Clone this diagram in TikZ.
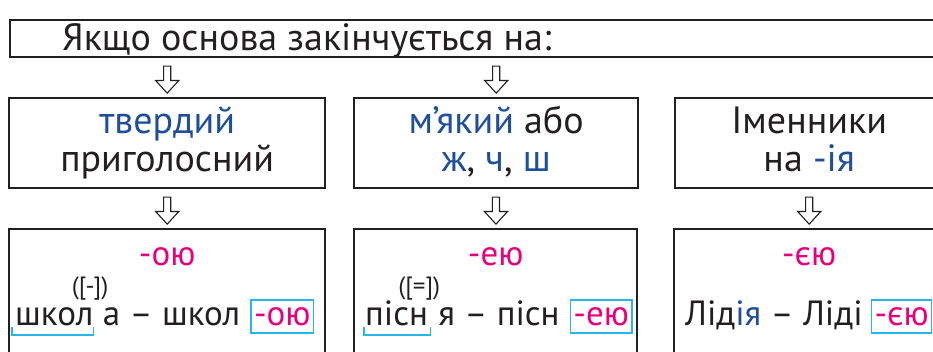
\documentclass[tikz,border=0pt]{standalone}
\usepackage{fontspec}
\setmainfont{PT Sans}
\usetikzlibrary{shapes.arrows,calc}

\definecolor{ink}{HTML}{231F20}
\definecolor{ublue}{HTML}{1F4E9B}
\definecolor{umag}{HTML}{E6007E}
\definecolor{ucyan}{HTML}{27B4E6}

\newcommand{\bl}[1]{\textcolor{ublue}{#1}}

\begin{document}
\begin{tikzpicture}[x=1pt, y=-1pt,
  box/.style={draw=ink, line width=2.4pt, inner sep=0pt},
  big/.style={text=ink, font=\fontsize{38}{36}\selectfont, inner sep=0pt},
  word/.style={text=ink, font=\fontsize{35}{34}\selectfont, inner sep=0pt},
  hint/.style={text=ink, font=\fontsize{25}{26}\selectfont, inner sep=0pt, anchor=base west},
  endbox/.style={draw=ucyan, line width=1.2pt, text=umag, font=\fontsize{35}{34}\selectfont,
    inner xsep=3pt, inner ysep=0pt, text height=25pt, text depth=8pt, anchor=base west},
  brk/.style={draw=ucyan, line width=1.2pt},
  darrow/.style={single arrow, draw=ink, line width=1.1pt, fill=white, rotate=-90,
    minimum height=27pt, inner xsep=0pt, inner ysep=3pt,
    single arrow head extend=8pt, single arrow tip angle=85}]

\useasboundingbox (0,0) rectangle (933,351);
\clip (0,0) rectangle (933,351);

% condition
\node[box, anchor=north west, minimum width=940pt, minimum height=37pt] (cond) at (9,19) {};
\node[big, anchor=base west] (condt) at (62,50) {Якщо основа закінчується на:};

% kinds of stem
\node[box, anchor=north west, minimum width=316pt, minimum height=90pt] (c1) at (8,97) {};
\node[box, anchor=north west, minimum width=284pt, minimum height=90pt] (c2) at (353,97) {};
\node[box, anchor=north west, minimum width=268pt, minimum height=90pt] (c3) at (674,97) {};

\node[big, anchor=base] (t1a) at ([shift={(0,36)}]c1.north) {\bl{твердий}};
\node[big, anchor=base] (t1b) at ([shift={(0,74)}]c1.north) {приголосний};
\node[big, anchor=base] (t2a) at ([shift={(0,36)}]c2.north) {\bl{м’який} або};
\node[big, anchor=base] (t2b) at ([shift={(0,74)}]c2.north) {\bl{ж}, \bl{ч}, \bl{ш}};
\node[big, anchor=base] (t3a) at ([shift={(0,36)}]c3.north) {Іменники};
\node[big, anchor=base] (t3b) at ([shift={(0,74)}]c3.north) {на \bl{-ія}};

% endings
\node[box, anchor=north west, minimum width=316pt, minimum height=140pt] (e1) at (8,228) {};
\node[box, anchor=north west, minimum width=283pt, minimum height=140pt] (e2) at (353,228) {};
\node[box, anchor=north west, minimum width=270pt, minimum height=140pt] (e3) at (673,228) {};

\node[word, text=umag, anchor=base] (e1t) at ([shift={(0,37)}]e1.north) {-ою};
\node[word, text=umag, anchor=base] (e2t) at ([shift={(0,37)}]e2.north) {-ею};
\node[word, text=umag, anchor=base] (e3t) at ([shift={(0,37)}]e3.north) {-єю};

% examples
\node[word, anchor=base west] (w1) at (15,325) {школ};
\node[hint] (h1) at ([shift={(-22,-31)}]w1.base east) {([-])};
\node[word, anchor=base west] (w1b) at ([xshift=9pt]w1.base east) {а – школ};
\node[endbox] (k1) at ([xshift=10pt]w1b.base east) {-ою};
\draw[brk] ([shift={(-3,2)}]w1.base west) -- ++(0,8) -| ([shift={(0,2)}]w1.base east);

\node[word, anchor=base west] (w2) at (365,325) {пісн};
\node[hint] (h2) at ([shift={(-30,-31)}]w2.base east) {([=])};
\node[word, anchor=base west] (w2b) at ([xshift=10pt]w2.base east) {я – пісн};
\node[endbox] (k2) at ([xshift=10pt]w2b.base east) {-ею};
\draw[brk] ([shift={(-1,2)}]w2.base west) -- ++(0,8) -| ([shift={(2,2)}]w2.base east);

\node[word, anchor=base west] (w3) at (685,325) {Лід\bl{ія} – Ліді};
\node[endbox] (k3) at ([xshift=8pt]w3.base east) {-єю};

% arrows
\foreach \i in {1,2}
  \node[darrow] (a\i) at ($(cond.south -| c\i.north)!.5!(c\i.north)$) {};
\foreach \i in {1,2,3}
  \node[darrow] (b\i) at ($(c\i.south)!.5!(e\i.north)$) {};

\end{tikzpicture}
\end{document}
